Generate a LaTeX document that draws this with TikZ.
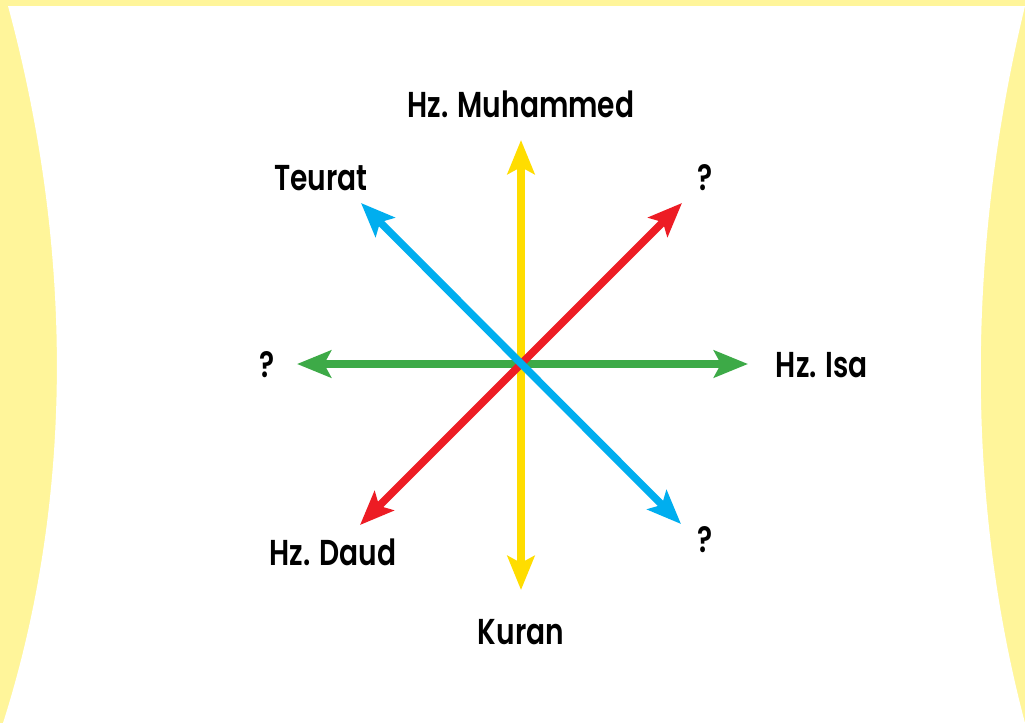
\documentclass[tikz,border=0pt]{standalone}
\usepackage{fontspec}
\setmainfont{Poppins}[BoldFont={Poppins SemiBold}]
\usetikzlibrary{arrows.meta}
\definecolor{bgyellow}{HTML}{FFF59A}
\definecolor{ayellow}{HTML}{FFDD00}
\definecolor{agreen}{HTML}{3DAA47}
\definecolor{ared}{HTML}{ED1C24}
\definecolor{ablue}{HTML}{00AEEF}
\newcommand{\lbltxt}[1]{\scalebox{0.78}[1]{#1}}
\tikzset{
  lbl/.style={inner sep=0pt, font=\fontsize{36}{40}\selectfont\bfseries, text=black},
  dblarrow/.style={line width=7.5pt, {Stealth[length=34pt,width=27pt,inset=7pt]}-{Stealth[length=34pt,width=27pt,inset=7pt]}}
}
\begin{document}
\begin{tikzpicture}[x=1pt,y=-1pt]
\useasboundingbox (0,0) rectangle (1025,723);
\fill[bgyellow] (0,0) rectangle (1025,723);
\fill[white] (8,6) .. controls (74,250) and (74,500) .. (3,723)
  -- (1025,723) .. controls (966,500) and (966,250) .. (1025,6) -- cycle;
% coordinates
\coordinate (c) at (521,364);
\coordinate (ytop) at (521,140);
\coordinate (ybot) at (521,590);
\coordinate (gl) at (297,364);
\coordinate (gr) at (748,364);
\coordinate (rtr) at (682,203);
\coordinate (rbl) at (360,525);
\coordinate (btl) at (361,203);
\coordinate (bbr) at (681,524);
% arrows
\draw[dblarrow, ayellow] (ybot) -- (ytop);
\draw[dblarrow, agreen] (gl) -- (gr);
\draw[dblarrow, ared] (rbl) -- (rtr);
\draw[dblarrow, ablue] (btl) -- (bbr);
% labels
\node[lbl] (muh) at (521,104) {\lbltxt{Hz. Muhammed}};
\node[lbl] (teu) at (321,178) {\lbltxt{Teurat}};
\node[lbl] (q1) at (705,178) {\lbltxt{?}};
\node[lbl] (q2) at (267,365) {\lbltxt{?}};
\node[lbl] (isa) at (822,365) {\lbltxt{Hz. Isa}};
\node[lbl] (q3) at (705,540) {\lbltxt{?}};
\node[lbl] (dau) at (333,552) {\lbltxt{Hz. Daud}};
\node[lbl] (kur) at (521,632) {\lbltxt{Kuran}};
\end{tikzpicture}
\end{document}
